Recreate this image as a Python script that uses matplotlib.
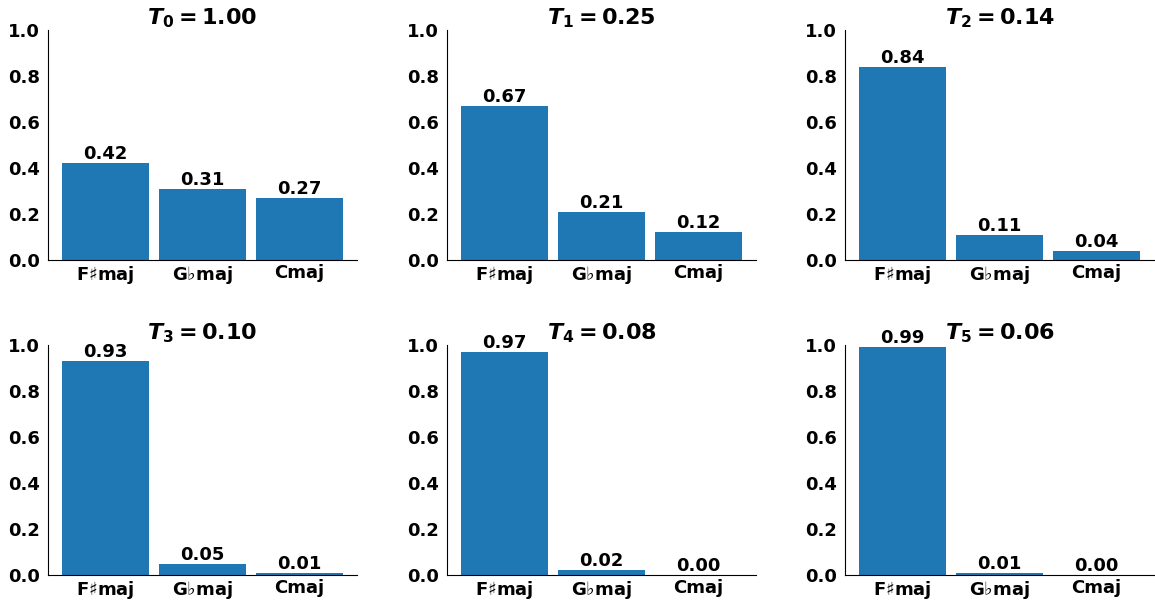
import matplotlib
matplotlib.use("Agg")
import matplotlib.pyplot as plt

categories = [r"F$\sharp$maj", r"G$\flat$maj", "Cmaj"]
temps = ["1.00", "0.25", "0.14", "0.10", "0.08", "0.06"]
values = [
    [0.42, 0.31, 0.27],
    [0.67, 0.21, 0.12],
    [0.84, 0.11, 0.04],
    [0.93, 0.05, 0.01],
    [0.97, 0.02, 0.00],
    [0.99, 0.01, 0.00],
]

fig = plt.figure(figsize=(11.55, 6.05), dpi=100)
lefts = [48/1155, 447/1155, 845/1155]
width = 309/1155
bottoms = [1 - 260/605, 1 - 575/605]
height = 230/605

for i, (t, vals) in enumerate(zip(temps, values)):
    r, c = divmod(i, 3)
    ax = fig.add_axes([lefts[c], bottoms[r], width, height])
    x = range(len(categories))
    bars = ax.bar(x, vals, width=0.9, color="#1f77b4")
    ax.set_ylim(0, 1.0)
    ax.set_xticks(list(x))
    ax.set_xticklabels(categories, fontsize=13, fontweight="bold")
    ax.set_yticks([0, 0.2, 0.4, 0.6, 0.8, 1.0])
    ax.set_yticklabels([f"{v:.1f}" for v in [0, 0.2, 0.4, 0.6, 0.8, 1.0]],
                       fontsize=13, fontweight="bold")
    ax.tick_params(axis="x", length=0, pad=3)
    ax.tick_params(axis="y", length=0, pad=6)
    ax.spines["top"].set_visible(False)
    ax.spines["right"].set_visible(False)
    for b, v in zip(bars, vals):
        ax.text(b.get_x() + b.get_width()/2, v, f"{v:.2f}",
                ha="center", va="bottom", fontsize=13, fontweight="bold")
    ax.set_title(r"$\mathbfit{T}_{\mathbf{%d}} \mathbf{=} \mathbf{%s}$" % (i, t),
                 fontsize=16, pad=4)

fig.savefig("out.png", dpi=100)
